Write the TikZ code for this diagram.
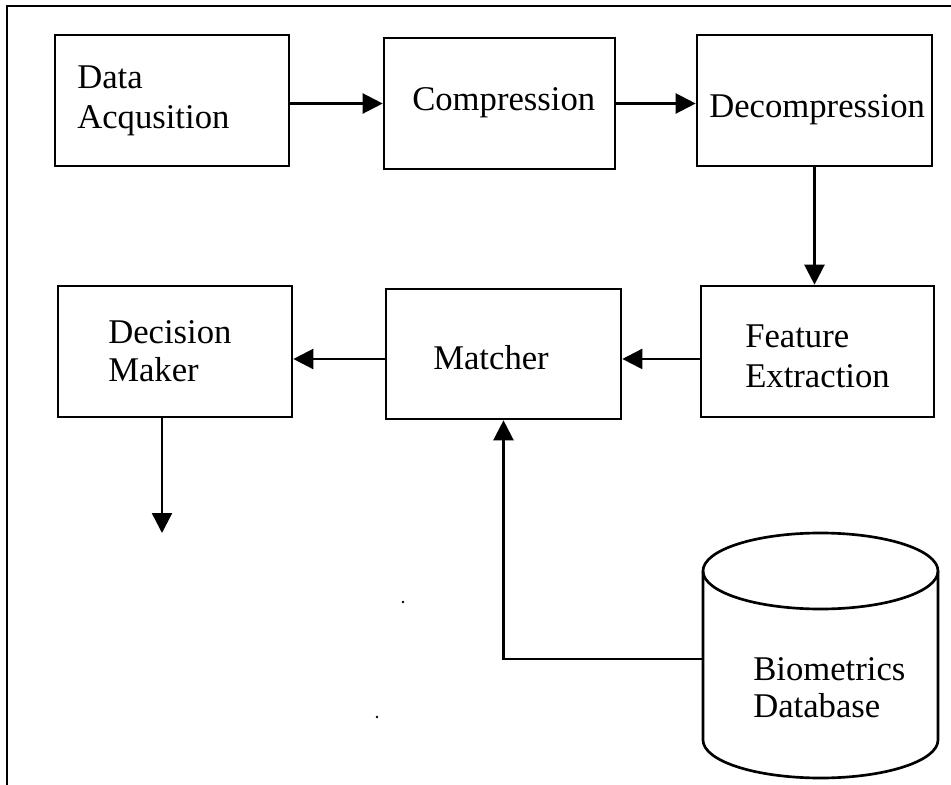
\documentclass[tikz,border=0pt]{standalone}
\usepackage{fontspec}
\setmainfont{Liberation Serif}
\usetikzlibrary{arrows.meta}
\begin{document}
\begin{tikzpicture}[x=0.75pt,y=-0.75pt,
  box/.style={draw, line width=2pt, rectangle, inner sep=0pt},
  lbl/.style={anchor=base west, inner sep=0pt, font=\fontsize{26}{30}\selectfont},
  conn/.style={line width=1.8pt, -{Triangle[length=15pt,width=15pt]}},
  frame/.style={line width=2pt}
  ]
\useasboundingbox (0,0) rectangle (951,785);
\draw[frame] (7,785) -- (7,6) -- (951,6);

% boxes
\node[box, minimum width=175.5pt, minimum height=98.25pt] (data) at (172,100.5) {};
\node[box, minimum width=173.25pt, minimum height=98.25pt] (comp) at (499.5,103.5) {};
\node[box, minimum width=176.25pt, minimum height=98.25pt] (decomp) at (814.5,100.5) {};
\node[box, minimum width=174.75pt, minimum height=98.25pt] (feat) at (817.5,351.5) {};
\node[box, minimum width=176.25pt, minimum height=97.5pt] (matcher) at (503.5,354) {};
\node[box, minimum width=175.5pt, minimum height=98.25pt] (dec) at (175,351.5) {};

% cylinder (database)
\draw[frame] (820.5,571) ellipse [x radius=88.125pt, y radius=28.5pt];
\draw[frame] (703,571) -- (703,740) arc[start angle=180, end angle=360, x radius=88.125pt, y radius=28.5pt] -- (938,571);
\coordinate (dbl) at (703,659);

% labels
\node[lbl] (t1a) at (77,88) {Data};
\node[lbl] (t1b) at (77,128) {Acqusition};
\node[lbl] (t2) at (412,110) {Compression};
\node[lbl] (t3) at (709,117) {Decompression};
\node[lbl] (t4a) at (745,347) {Feature};
\node[lbl] (t4b) at (745,387) {Extraction};
\node[lbl] (t5) at (433,369) {Matcher};
\node[lbl] (t6a) at (108,343) {Decision};
\node[lbl] (t6b) at (108,381) {Maker};
\node[lbl] (t7a) at (753,680) {Biometrics};
\node[lbl] (t7b) at (753,717) {Database};

% connectors
\draw[conn] (data.east |- comp.west) -- (comp.west);
\draw[conn] (comp.east) -- (comp.east -| decomp.west);
\draw[conn] (decomp.south) -- (decomp.south |- feat.north);
\coordinate (f1) at ([yshift=-5.6pt]feat.west);
\draw[conn] (f1) -- (f1 -| matcher.east);
\coordinate (m1) at ([yshift=-3.75pt]matcher.west);
\draw[conn] (m1) -- (m1 -| dec.east);
\coordinate (decout) at (162,533);
\draw[conn] (decout |- dec.south) -- (decout);
\draw[conn] (dbl) -| (matcher.south);

% stray dots
\fill (403,602) circle (1pt);
\fill (377,717) circle (1pt);
\end{tikzpicture}
\end{document}
